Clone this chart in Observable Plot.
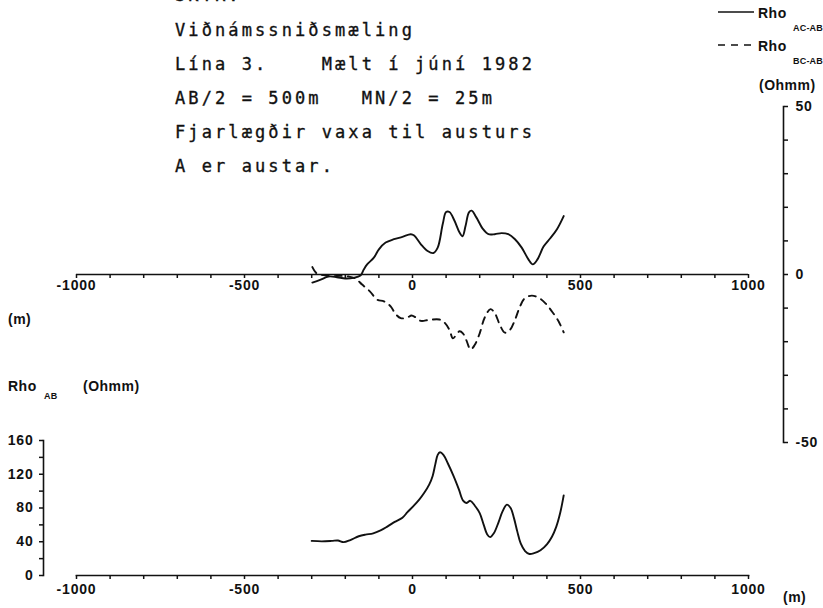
<!DOCTYPE html>
<html>
<head>
<meta charset="utf-8">
<script src="https://cdn.jsdelivr.net/npm/d3@7"></script>
<script src="https://cdn.jsdelivr.net/npm/@observablehq/plot@0.6"></script>
<style>
  html, body { margin: 0; padding: 0; background: #fff; }
  #wrap { position: relative; width: 823px; height: 608px; overflow: hidden; background: #fff; }
  #wrap svg.plotsvg { position: absolute; left: 0; top: 0; }
  .title { position: absolute; left: 175px; font-family: "DejaVu Sans Mono", monospace; font-size: 17px; letter-spacing: 3.1px; line-height: 34px; white-space: pre; color: #111; -webkit-text-stroke: 0.35px #111; }
  .lab { position: absolute; font-family: "Liberation Sans", Arial, sans-serif; font-weight: bold; color: #111; white-space: pre; line-height: 1; }
  .big { font-size: 14px; letter-spacing: 0.5px; }
  .sub { font-size: 9px; letter-spacing: 0.2px; }
</style>
</head>
<body>
<div id="wrap"></div>
<script>
// ---- Data ----
const headLine = "SKÝR.";
const titleLines = [
  "Viðnámssniðsmæling",
  "Lína 3.    Mælt í júní 1982",
  "AB/2 = 500m   MN/2 = 25m",
  "Fjarlægðir vaxa til austurs",
  "A er austar."
];

const xTicks = d3.range(-1000, 1001, 100);
const xLabelStep = 500;
const diffTicks = d3.range(-50, 51, 10);
const diffLabelStep = 50;
const rhoTicks = d3.range(0, 161, 20);
const rhoLabelStep = 40;

// Rho AC-AB (solid), Ohmm vs distance (m)
const acDist = [-298,-275,-250,-225,-200,-175,-155,-145,-135,-115,-100,-80,-55,-30,-5,5,25,45,62,75,90,100,110,125,140,149,158,168,176,190,210,226,245,265,285,305,325,345,358,372,390,410,430,450];
const acRho  = [-2.4,-1.6,-0.6,-0.8,-1.2,-1.0,-0.3,1.5,3.0,5.0,7.5,9.5,10.5,11.2,12.0,11.6,9.0,7.0,6.4,8.0,15,18.6,18.6,16.0,12.5,11.4,14.5,18.5,19.0,17.0,13.5,12.0,12.0,12.3,12.0,10.5,8.0,4.5,3.0,4.5,8.3,10.8,13.5,17.4];

// Rho BC-AB (dashed)
const bcDist = [-298,-285,-265,-240,-215,-190,-170,-150,-127,-105,-85,-65,-50,-35,-15,-3,10,25,50,80,95,110,120,130,140,150,160,173,185,200,215,232,245,260,275,290,305,320,335,355,375,395,415,435,450];
const bcRho  = [2.2,0.3,-0.2,-0.5,-0.4,-0.6,-1.2,-3.0,-5.0,-7.5,-8.0,-9.5,-11.8,-13.0,-12.8,-12.2,-12.8,-13.8,-13.5,-13.4,-14.3,-16.5,-19.0,-18.0,-16.9,-17.5,-19.5,-22.3,-21.0,-17.5,-12.8,-10.3,-11.5,-15.0,-17.3,-16.5,-13.5,-9.5,-7.0,-6.3,-6.9,-8.5,-11.0,-14.0,-17.2];

// Rho AB (bottom panel)
const abDist = [-300,-270,-240,-222,-205,-185,-160,-140,-117,-95,-75,-53,-30,-15,2,20,35,50,60,68,75,82,92,105,122,138,150,160,172,185,200,212,222,231,242,256,268,281,292,302,312,322,335,348,362,381,400,415,428,440,450];
const abRho  = [41,40.5,41,41.5,39.5,42,46.5,48.5,50,53.5,58,63.5,68.5,75,82,90,98,108,118,132,143,146,143,133,118,102,89,86,88.5,83,74,60,49,45.5,50,63,76,84,80,68,52,38,29,25.5,26.5,30,37,46,58,75,95];

// ---- Build tables ----
const acData = acDist.map((x, i) => ({x, v: acRho[i]}));
const bcData = bcDist.map((x, i) => ({x, v: bcRho[i]}));
const abData = abDist.map((x, i) => ({x, v: abRho[i]}));

const fmtStep = step => d => (d % step === 0 ? String(d) : "");
const ink = "#111";
const baseStyle = {fontFamily: "Liberation Sans, Arial, sans-serif", fontSize: "14px", fontWeight: "bold", letterSpacing: "0.8px", color: ink, background: "transparent", overflow: "visible"};

const wrap = document.getElementById("wrap");

// ---- Top panel: difference curves ----
const topH = 460, topMT = 106, topMB = 18;
const zeroShift = -((topH - topMB) - (topMT + (topH - topMB - topMT) / 2));
const topPlot = Plot.plot({
  width: 823, height: topH,
  marginLeft: 76, marginRight: 75, marginTop: topMT, marginBottom: topMB,
  x: {domain: [-1000, 1000]},
  y: {domain: [-50, 50]},
  style: baseStyle,
  marks: [
    Plot.ruleY([0], {stroke: ink, strokeWidth: 1.7}),
    Plot.axisX({anchor: "bottom", ticks: xTicks, tickSize: 4, tickPadding: 2, tickFormat: fmtStep(xLabelStep), dy: zeroShift, label: null, stroke: ink, strokeWidth: 1.5}),
    Plot.axisY({anchor: "right", ticks: diffTicks, tickSize: 4, tickPadding: 8, tickFormat: fmtStep(diffLabelStep), dx: 35, label: null, stroke: ink, strokeWidth: 1.5}),
    Plot.frame({anchor: "right", dx: 35, stroke: ink, strokeWidth: 1.6}),
    Plot.line(acData, {x: "x", y: "v", curve: "catmull-rom", stroke: ink, strokeWidth: 1.9}),
    Plot.line(bcData, {x: "x", y: "v", curve: "catmull-rom", stroke: ink, strokeWidth: 1.9, strokeDasharray: "7,6"})
  ]
});
topPlot.classList.add("plotsvg");
wrap.appendChild(topPlot);

// ---- Bottom panel: Rho AB ----
const botPlot = Plot.plot({
  width: 823, height: 608,
  marginLeft: 76, marginRight: 75, marginTop: 440, marginBottom: 33,
  x: {domain: [-1000, 1000]},
  y: {domain: [0, 160]},
  style: baseStyle,
  marks: [
    Plot.frame({anchor: "bottom", stroke: ink, strokeWidth: 1.7}),
    Plot.frame({anchor: "left", dx: -33, stroke: ink, strokeWidth: 1.6}),
    Plot.axisX({anchor: "bottom", ticks: xTicks, tickSize: 4, tickPadding: 5, tickFormat: fmtStep(xLabelStep), label: null, stroke: ink, strokeWidth: 1.5}),
    Plot.axisY({anchor: "left", ticks: rhoTicks, tickSize: 4, tickPadding: 6, tickFormat: fmtStep(rhoLabelStep), dx: -33, label: null, stroke: ink, strokeWidth: 1.5}),
    Plot.line(abData, {x: "x", y: "v", curve: "catmull-rom", stroke: ink, strokeWidth: 1.9})
  ]
});
botPlot.classList.add("plotsvg");
wrap.appendChild(botPlot);

// ---- Texts ----
const h = document.createElement("div");
h.className = "title";
h.style.top = "-13px";
h.style.lineHeight = "17px";
h.textContent = headLine;
wrap.appendChild(h);

const t = document.createElement("div");
t.className = "title";
t.style.top = "13px";
t.textContent = titleLines.join("\n");
wrap.appendChild(t);

function lab(text, left, cy, cls, fs) {
  const d = document.createElement("div");
  d.className = "lab " + cls;
  d.textContent = text;
  d.style.left = left + "px";
  d.style.top = (cy - fs / 2) + "px";
  wrap.appendChild(d);
}
// legend
const leg = document.createElementNS("http://www.w3.org/2000/svg", "svg");
leg.setAttribute("width", 823); leg.setAttribute("height", 60);
leg.style.position = "absolute"; leg.style.left = "0px"; leg.style.top = "0px";
leg.innerHTML = '<line x1="718" x2="754" y1="12" y2="12" stroke="#111" stroke-width="1.6"/>' +
                '<line x1="718" x2="756" y1="45" y2="45" stroke="#111" stroke-width="1.6" stroke-dasharray="7,6"/>';
wrap.appendChild(leg);
lab("Rho", 758, 13, "big", 14);
lab("AC-AB", 793, 28, "sub", 9);
lab("Rho", 758, 46, "big", 14);
lab("BC-AB", 793, 61, "sub", 9);
lab("(Ohmm)", 759, 85, "big", 14);
// axis labels
lab("(m)", 8, 319, "big", 14);
lab("(m)", 783, 597, "big", 14);
lab("Rho", 8, 386, "big", 14);
lab("AB", 44, 396, "sub", 9);
lab("(Ohmm)", 83, 386, "big", 14);
</script>
</body>
</html>
